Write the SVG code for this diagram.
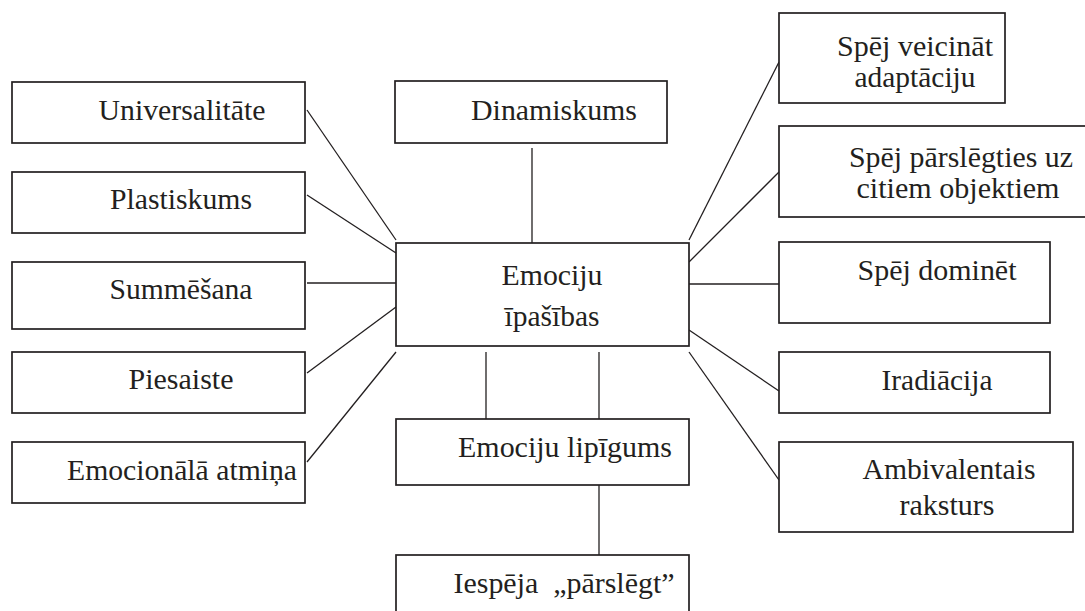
<svg xmlns="http://www.w3.org/2000/svg" width="1085" height="611" viewBox="0 0 1085 611">
  <style>
    .box { fill: #ffffff; stroke: #231f20; stroke-width: 1.7; }
    .link { fill: none; stroke: #231f20; stroke-width: 1.3; }
    .lbl { font-family: "Liberation Serif", "DejaVu Serif", "Times New Roman", serif; font-size: 29px; fill: #231f20; text-anchor: middle; }
  </style>
  <rect width="1085" height="611" fill="#ffffff"/>

  <!-- connectors -->
  <g id="connectors">
    <line class="link" x1="307" y1="110" x2="396" y2="240"/>
    <line class="link" x1="307" y1="195" x2="396" y2="253"/>
    <line class="link" x1="307" y1="283" x2="396" y2="283"/>
    <line class="link" x1="307" y1="373" x2="396" y2="307"/>
    <line class="link" x1="307" y1="462" x2="396" y2="352"/>
    <line class="link" x1="532" y1="148" x2="532" y2="252"/>
    <line class="link" x1="486" y1="352" x2="486" y2="419"/>
    <line class="link" x1="599" y1="352" x2="599" y2="419"/>
    <line class="link" x1="599" y1="485" x2="599" y2="555"/>
    <line class="link" x1="779" y1="62" x2="689" y2="240"/>
    <line class="link" x1="779" y1="172" x2="689" y2="262"/>
    <line class="link" x1="689" y1="284" x2="779" y2="284"/>
    <line class="link" x1="689" y1="330" x2="779" y2="391"/>
    <line class="link" x1="689" y1="352" x2="779" y2="480"/>
  </g>

  <!-- left column -->
  <g id="universalitate">
    <rect class="box" x="12" y="82" width="293" height="61"/>
    <text class="lbl" x="182" y="120" textLength="167" lengthAdjust="spacingAndGlyphs">Universalitāte</text>
  </g>
  <g id="plastiskums">
    <rect class="box" x="12" y="172" width="293" height="61"/>
    <text class="lbl" x="181" y="209" textLength="142" lengthAdjust="spacingAndGlyphs">Plastiskums</text>
  </g>
  <g id="summesana">
    <rect class="box" x="12" y="262" width="293" height="67"/>
    <text class="lbl" x="181" y="299" textLength="143" lengthAdjust="spacingAndGlyphs">Summēšana</text>
  </g>
  <g id="piesaiste">
    <rect class="box" x="12" y="352" width="293" height="61"/>
    <text class="lbl" x="181" y="389" textLength="105" lengthAdjust="spacingAndGlyphs">Piesaiste</text>
  </g>
  <g id="emocionala-atmina">
    <rect class="box" x="12" y="442" width="293" height="61"/>
    <text class="lbl" x="182" y="480" textLength="230" lengthAdjust="spacingAndGlyphs">Emocionālā atmiņa</text>
  </g>

  <!-- centre column -->
  <g id="dinamiskums">
    <rect class="box" x="395" y="81" width="272" height="62"/>
    <text class="lbl" x="554" y="120" textLength="166" lengthAdjust="spacingAndGlyphs">Dinamiskums</text>
  </g>
  <g id="emociju-ipasibas">
    <rect class="box" x="396" y="243" width="293" height="103"/>
    <text class="lbl" x="552" y="285" textLength="101" lengthAdjust="spacingAndGlyphs">Emociju</text>
    <text class="lbl" x="552" y="326" textLength="95" lengthAdjust="spacingAndGlyphs">īpašības</text>
  </g>
  <g id="emociju-lipigums">
    <rect class="box" x="396" y="419" width="293" height="66"/>
    <text class="lbl" x="565" y="457" textLength="214" lengthAdjust="spacingAndGlyphs">Emociju lipīgums</text>
  </g>
  <g id="iespeja-parslegt">
    <rect class="box" x="396" y="555" width="293" height="70"/>
    <text class="lbl" x="564" y="593" textLength="221" lengthAdjust="spacingAndGlyphs" xml:space="preserve">Iespēja  „pārslēgt”</text>
  </g>

  <!-- right column -->
  <g id="spej-veicinat">
    <rect class="box" x="779" y="13" width="226" height="90"/>
    <text class="lbl" x="915" y="56" textLength="156" lengthAdjust="spacingAndGlyphs">Spēj veicināt</text>
    <text class="lbl" x="915" y="87" textLength="121" lengthAdjust="spacingAndGlyphs">adaptāciju</text>
  </g>
  <g id="spej-parslegties">
    <rect class="box" x="779" y="126" width="310" height="91"/>
    <text class="lbl" x="961" y="167" textLength="224" lengthAdjust="spacingAndGlyphs">Spēj pārslēgties uz</text>
    <text class="lbl" x="958" y="198" textLength="203" lengthAdjust="spacingAndGlyphs">citiem objektiem</text>
  </g>
  <g id="spej-dominet">
    <rect class="box" x="779" y="242" width="271" height="81"/>
    <text class="lbl" x="937" y="280" textLength="159" lengthAdjust="spacingAndGlyphs">Spēj dominēt</text>
  </g>
  <g id="iradiacija">
    <rect class="box" x="779" y="352" width="271" height="61"/>
    <text class="lbl" x="937" y="390" textLength="111" lengthAdjust="spacingAndGlyphs">Iradiācija</text>
  </g>
  <g id="ambivalentais">
    <rect class="box" x="779" y="442" width="294" height="90"/>
    <text class="lbl" x="949" y="479" textLength="173" lengthAdjust="spacingAndGlyphs">Ambivalentais</text>
    <text class="lbl" x="947" y="515" textLength="95" lengthAdjust="spacingAndGlyphs">raksturs</text>
  </g>
</svg>
